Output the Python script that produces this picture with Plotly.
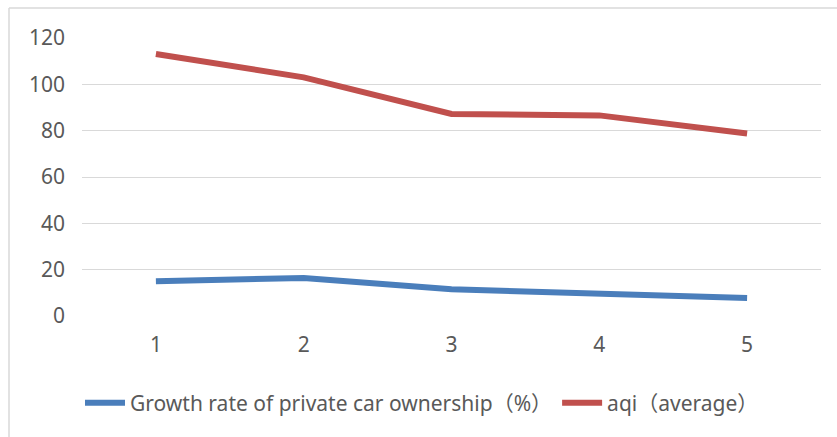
import plotly.graph_objects as go

categories = ["1", "2", "3", "4", "5"]
growth_rate = [15.0, 16.4, 11.5, 9.8, 7.8]
aqi_avg = [113.1, 103.0, 87.2, 86.6, 78.8]
y_ticks = [0, 20, 40, 60, 80, 100, 120]

W, H = 837, 437
L, R, T, B = 82, 16, 38, 121

fig = go.Figure()
fig.add_trace(go.Scatter(x=categories, y=growth_rate, mode="lines",
                         name="Growth rate of private car ownership（%）",
                         line=dict(color="#4A7EBB", width=6)))
fig.add_trace(go.Scatter(x=categories, y=aqi_avg, mode="lines",
                         name="aqi（average）",
                         line=dict(color="#C0504D", width=6)))

font_family = "Noto Sans, Noto Sans CJK SC, sans-serif"
fig.update_layout(
    width=W, height=H,
    margin=dict(l=L, r=R, t=T, b=B, pad=0),
    paper_bgcolor="white", plot_bgcolor="white",
    font=dict(family=font_family, size=21, color="#595959"),
    showlegend=True,
    legend=dict(orientation="h", x=(422 - L) / (W - L - R), xanchor="center",
                y=(316 - 403) / (437 - T - B), yanchor="middle",
                font=dict(size=21, color="#595959"),
                itemwidth=40, traceorder="normal"),
    xaxis=dict(type="category", range=[-0.5, 4.5], showgrid=False,
               showline=False, zeroline=False, ticks="", ticklabelstandoff=14),
    yaxis=dict(range=[0, 120], tickvals=y_ticks, showgrid=True,
               gridcolor="#D9D9D9", gridwidth=1, zeroline=False,
               showline=False, ticks="", ticklabelstandoff=16),
    shapes=[
        dict(type="line", xref="paper", yref="paper",
             x0=(9 - L) / (W - L - R), x1=(W + 5 - L) / (W - L - R),
             y0=(H - B - 8) / (H - T - B), y1=(H - B - 8) / (H - T - B),
             line=dict(color="#D9D9D9", width=1.5)),
        dict(type="line", xref="paper", yref="paper",
             x0=(9 - L) / (W - L - R), x1=(9 - L) / (W - L - R),
             y0=(H - B - 8) / (H - T - B), y1=-(B + 5) / (H - T - B),
             line=dict(color="#D9D9D9", width=1.5)),
    ],
)

fig.write_html("out.html")
